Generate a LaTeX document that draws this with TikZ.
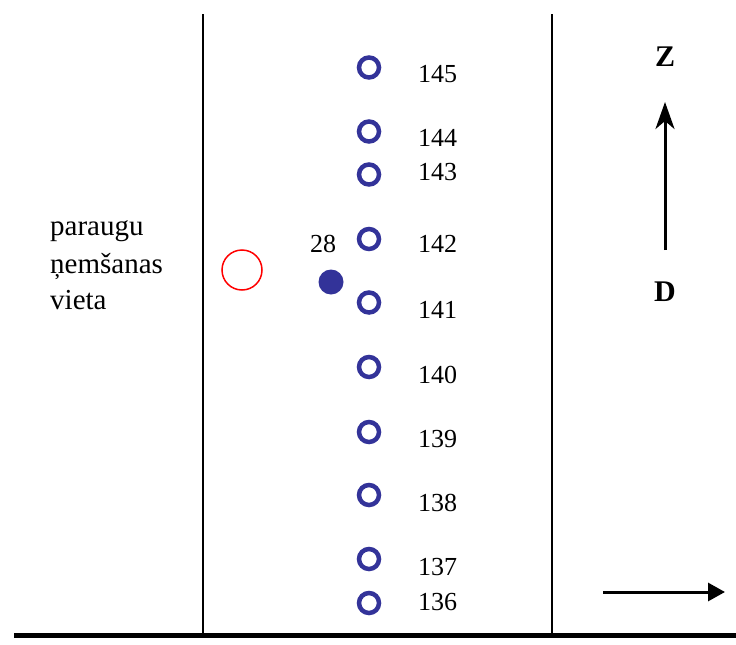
\documentclass[tikz,border=0pt]{standalone}
\usepackage{fontspec}
\setmainfont{Liberation Serif}
\usetikzlibrary{arrows.meta}
\definecolor{navy}{RGB}{51,51,153}
\begin{document}
\begin{tikzpicture}[x=1pt,y=-1pt,
  ring/.style={circle,draw=navy,line width=4.5pt,minimum size=20pt,inner sep=0pt},
  dot/.style={circle,fill=navy,minimum size=25pt,inner sep=0pt},
  num/.style={anchor=base west,inner sep=0pt,font=\fontsize{26}{31}\selectfont},
  lbl/.style={anchor=base west,inner sep=0pt,font=\fontsize{29}{35}\selectfont},
  dir/.style={inner sep=0pt,font=\fontsize{30}{35}\selectfont\bfseries},
  wall/.style={line width=2pt},
  arr/.style={line width=3pt}]
\useasboundingbox (0,0) rectangle (736,645);
% walls and ground
\coordinate (w1t) at (203,14); \coordinate (w1b) at (203,634);
\coordinate (w2t) at (552,14); \coordinate (w2b) at (552,634);
\coordinate (gl) at (14,635.5); \coordinate (gr) at (736,635.5);
\draw[wall] (w1t) -- (w1b);
\draw[wall] (w2t) -- (w2b);
\draw[line width=4.5pt] (gl) -- (gr);
% left text
\node[lbl] (t1) at (50,235) {paraugu};
\node[lbl] (t2) at (50,273) {ņemšanas};
\node[lbl] (t3) at (50,309) {vieta};
% sampling place
\node[circle,draw=red,line width=1.5pt,minimum size=40pt,inner sep=0pt] (rc) at (242,270) {};
\node[dot] (d28) at (331,282) {};
\node[anchor=base,inner sep=0pt,font=\fontsize{26}{31}\selectfont] (n28) at (323,252) {28};
% rings
\node[ring] (c145) at (369,67.5) {};
\node[ring] (c144) at (369,131.5) {};
\node[ring] (c143) at (369,174.5) {};
\node[ring] (c142) at (369,239) {};
\node[ring] (c141) at (369,302.5) {};
\node[ring] (c140) at (369,367) {};
\node[ring] (c139) at (369,432) {};
\node[ring] (c138) at (369,495) {};
\node[ring] (c137) at (369,559) {};
\node[ring] (c136) at (369,603) {};
\node[num] (l145) at (418,82) {145};
\node[num] (l144) at (418,146) {144};
\node[num] (l143) at (418,180) {143};
\node[num] (l142) at (418,252) {142};
\node[num] (l141) at (418,318) {141};
\node[num] (l140) at (418,383) {140};
\node[num] (l139) at (418,447) {139};
\node[num] (l138) at (418,511) {138};
\node[num] (l137) at (418,575) {137};
\node[num] (l136) at (418,610) {136};
% direction
\node[dir] (Z) at (665,57) {Z};
\node[dir] (D) at (665,292) {D};
\coordinate (ua) at (665,250); \coordinate (ub) at (665,102);
\draw[arr,-{Stealth[length=27pt,width=19pt,inset=8pt]}] (ua) -- (ub);
\coordinate (ra) at (603,592); \coordinate (rb) at (725,592);
\draw[arr,-{Triangle[length=17pt,width=18pt]}] (ra) -- (rb);
\end{tikzpicture}
\end{document}
